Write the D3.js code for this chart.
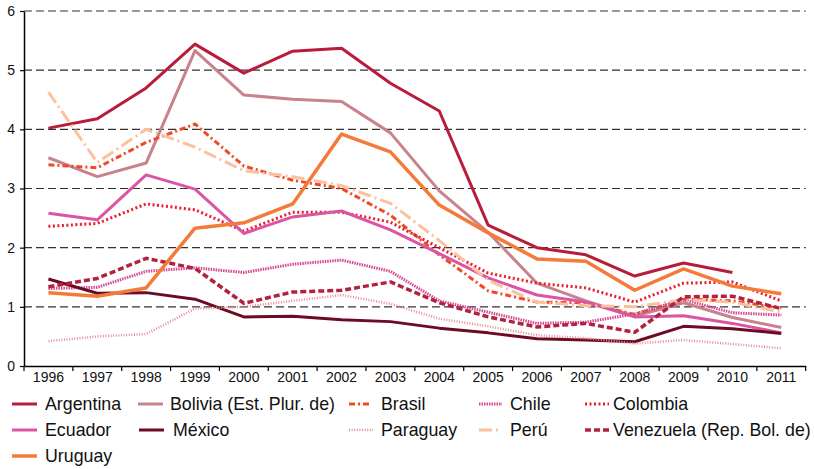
<!DOCTYPE html>
<html>
<head>
<meta charset="utf-8">
<script src="https://cdn.jsdelivr.net/npm/d3@7"></script>
<style>
  body { margin: 0; background: #fff; }
  text { font-family: "Liberation Sans", Arial, sans-serif; }
</style>
</head>
<body>
<script>
// years and series values
var years = ["1996","1997","1998","1999","2000","2001","2002","2003","2004","2005","2006","2007","2008","2009","2010","2011"];
var yTicks = [0, 1, 2, 3, 4, 5, 6];

var argentina = [4.02, 4.18, 4.70, 5.44, 4.95, 5.32, 5.37, 4.78, 4.31, 2.38, 2.00, 1.88, 1.52, 1.74, 1.58, null];
var bolivia   = [3.52, 3.20, 3.43, 5.33, 4.58, 4.51, 4.47, 3.94, 2.96, 2.26, 1.40, 1.10, 0.84, 1.07, 0.82, 0.65];
var brasil    = [3.40, 3.35, 3.78, 4.09, 3.38, 3.14, 3.00, 2.55, 1.88, 1.27, 1.08, 1.07, 0.87, 1.13, 1.10, 0.98];
var chile     = [1.31, 1.33, 1.60, 1.66, 1.58, 1.72, 1.79, 1.60, 1.10, 0.91, 0.72, 0.74, 0.88, 1.12, 0.90, 0.86];
var colombia  = [2.36, 2.41, 2.74, 2.64, 2.28, 2.60, 2.60, 2.43, 2.00, 1.57, 1.40, 1.32, 1.08, 1.40, 1.42, 1.10];
var ecuador   = [2.58, 2.47, 3.23, 2.99, 2.24, 2.52, 2.62, 2.30, 1.90, 1.49, 1.20, 1.08, 0.83, 0.85, 0.72, 0.56];
var mexico    = [1.47, 1.23, 1.24, 1.13, 0.83, 0.84, 0.78, 0.75, 0.64, 0.56, 0.46, 0.44, 0.41, 0.67, 0.63, 0.55];
var paraguay  = [0.42, 0.50, 0.54, 0.97, 1.00, 1.10, 1.20, 1.05, 0.80, 0.67, 0.52, 0.47, 0.38, 0.44, 0.37, 0.30];
var peru      = [4.63, 3.44, 4.00, 3.70, 3.30, 3.20, 3.05, 2.75, 2.12, 1.45, 1.08, 1.02, 1.00, 1.12, 1.08, 0.91];
var venezuela = [1.34, 1.48, 1.82, 1.65, 1.06, 1.25, 1.28, 1.42, 1.07, 0.83, 0.66, 0.72, 0.57, 1.17, 1.18, 0.97];
var uruguay   = [1.24, 1.18, 1.32, 2.33, 2.42, 2.74, 3.92, 3.62, 2.72, 2.25, 1.81, 1.77, 1.28, 1.64, 1.35, 1.22];

var names = ["Argentina", "Bolivia (Est. Plur. de)", "Brasil", "Chile", "Colombia",
             "Ecuador", "México", "Paraguay", "Perú", "Venezuela (Rep. Bol. de)", "Uruguay"];
var seriesValues = [argentina, bolivia, brasil, chile, colombia, ecuador, mexico, paraguay, peru, venezuela, uruguay];

// styles per series
var colors = ["#b91c3a", "#c8828c", "#ef4a25", "#d64a92", "#ec1c2e", "#db55a5", "#6e0b24", "#e58b9b", "#fbc09c", "#b3213e", "#f47a3a"];
var dashes = [null, null, "6,3,2,3", "1.5,1", "2,2.5", null, null, "1,1.6", "13,4,2,4", "6,3", null];
var widths = [3, 3, 3, 3, 3, 3, 3, 2.5, 3, 3.5, 3.5];

var w = 814, h = 469;
var plotLeft = 24, plotRight = 805.7, plotTop = 11, plotBottom = 366;

var svg = d3.select("body").append("svg")
  .attr("width", w)
  .attr("height", h);

var x = d3.scaleBand().domain(years).range([plotLeft, plotRight]);
var y = d3.scaleLinear().domain([0, 6]).range([plotBottom, plotTop]);
var cx = function(d) { return x(d) + x.bandwidth() / 2; };

// gridlines
svg.append("g").selectAll("line")
  .data(yTicks.filter(function(d) { return d > 0; }))
  .enter().append("line")
  .attr("x1", plotLeft).attr("x2", plotRight)
  .attr("y1", function(d) { return y(d); })
  .attr("y2", function(d) { return y(d); })
  .attr("stroke", "#333")
  .attr("stroke-width", 1.2)
  .attr("stroke-dasharray", "8,4");

// lines
var line = d3.line()
  .defined(function(d) { return d.v != null; })
  .x(function(d) { return cx(d.year); })
  .y(function(d) { return y(d.v); });

seriesValues.forEach(function(vals, i) {
  var pts = years.map(function(yr, j) { return {year: yr, v: vals[j]}; });
  svg.append("path")
    .datum(pts)
    .attr("d", line)
    .attr("fill", "none")
    .attr("stroke", colors[i])
    .attr("stroke-width", widths[i])
    .attr("stroke-dasharray", dashes[i])
    .attr("stroke-linejoin", "round");
});

// y axis
var yAxis = svg.append("g")
  .attr("transform", "translate(" + plotLeft + ",0)")
  .call(d3.axisLeft(y).tickValues(yTicks).tickFormat(d3.format("d"))
    .tickSize(4).tickPadding(5).tickSizeOuter(0));
yAxis.select(".domain").attr("stroke", "#000").attr("stroke-width", 1.5);
yAxis.selectAll(".tick line").attr("stroke", "#000").attr("stroke-width", 1.2);
yAxis.selectAll("text").attr("font-size", "14px").attr("fill", "#111")
  .style("font-family", "'Liberation Sans', Arial, sans-serif");

// x axis: labels centered, ticks at band boundaries
var xAxis = svg.append("g")
  .attr("transform", "translate(0," + plotBottom + ")")
  .call(d3.axisBottom(x).tickSize(0).tickPadding(6).tickSizeOuter(0));
xAxis.select(".domain").attr("stroke", "#000").attr("stroke-width", 1.5);
xAxis.selectAll("text").attr("font-size", "14px").attr("fill", "#111")
  .style("font-family", "'Liberation Sans', Arial, sans-serif");
xAxis.selectAll("line.bound")
  .data(years.concat(["end"]))
  .enter().append("line")
  .attr("class", "bound")
  .attr("x1", function(d) { return d === "end" ? plotRight : x(d); })
  .attr("x2", function(d) { return d === "end" ? plotRight : x(d); })
  .attr("y1", 0).attr("y2", 5)
  .attr("stroke", "#000").attr("stroke-width", 1.2);

// legend
var legendPos = [
  [12, 404, 25, 45], [138, 404, 25, 170], [349, 404, 22, 381], [479, 404, 23, 510], [585, 404, 24, 613],
  [12, 430, 25, 45], [139, 430, 25, 173], [349, 430, 24, 381], [479, 430, 23, 510], [585, 430, 27, 613],
  [12, 456, 25, 45]
];

var lg = svg.append("g").attr("class", "legend");
names.forEach(function(n, i) {
  var p = legendPos[i];
  lg.append("line")
    .attr("x1", p[0]).attr("x2", p[0] + p[2])
    .attr("y1", p[1]).attr("y2", p[1])
    .attr("stroke", colors[i])
    .attr("stroke-width", widths[i])
    .attr("stroke-dasharray", dashes[i]);
  lg.append("text")
    .attr("x", p[3]).attr("y", p[1])
    .attr("dy", "0.36em")
    .attr("font-size", "17.8px")
    .attr("fill", "#111")
    .text(n);
});
</script>
</body>
</html>
